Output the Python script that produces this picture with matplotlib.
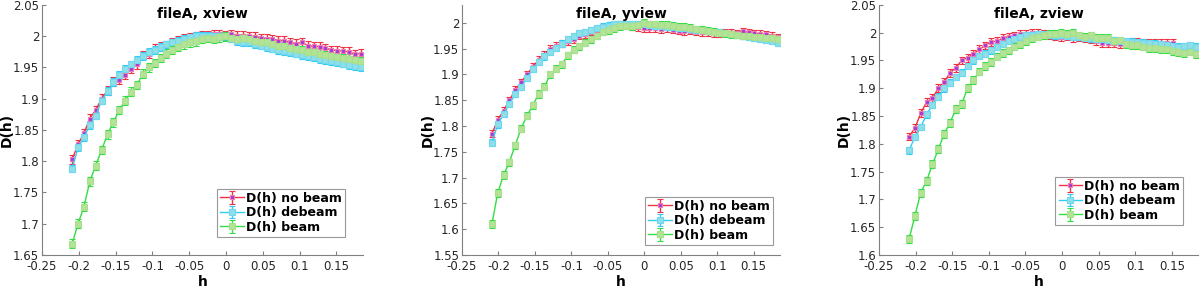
import numpy as np
import matplotlib
matplotlib.use("Agg")
import matplotlib.pyplot as plt

nan = np.nan

h = [-0.209, -0.201, -0.193, -0.185, -0.177, -0.169, -0.161, -0.153, -0.145, -0.137,
     -0.129, -0.121, -0.113, -0.105, -0.097, -0.089, -0.081, -0.073, -0.065, -0.057,
     -0.049, -0.041, -0.033, -0.025, -0.017, -0.009, -0.001, 0.007, 0.015, 0.023,
     0.031, 0.039, 0.047, 0.055, 0.063, 0.071, 0.079, 0.087, 0.095, 0.103,
     0.111, 0.119, 0.127, 0.135, 0.143, 0.151, 0.159, 0.167, 0.175, 0.183]

xview_nobeam = [1.803, 1.827, 1.845, 1.868, 1.882, 1.900, 1.913, 1.927, 1.930, 1.938,
                1.948, 1.955, 1.970, 1.972, 1.980, 1.983, 1.986, 1.990, 1.993, 1.996,
                1.998, 2.000, 2.001, 2.002, 2.003, 2.003, 2.002, 2.003, 2.001, 2.001,
                2.000, 1.999, 1.997, 1.996, 1.995, 1.993, 1.993, 1.990, 1.988, 1.990,
                1.985, 1.984, 1.983, 1.981, 1.978, 1.977, 1.976, 1.975, 1.971, 1.972]
xview_debeam = [1.788, 1.822, 1.838, 1.858, 1.873, 1.897, 1.912, 1.927, 1.938, 1.948,
                1.955, 1.962, 1.968, 1.975, 1.978, 1.983, 1.987, 1.990, 1.993, 1.996,
                1.998, 2.000, 2.000, 2.001, 2.001, 2.001, 2.000, 1.996, 1.992, 1.990,
                1.990, 1.987, 1.985, 1.982, 1.980, 1.978, 1.976, 1.974, 1.972, 1.970,
                1.968, 1.966, 1.963, 1.962, 1.960, 1.958, 1.956, 1.954, 1.952, 1.950]
xview_beam = [1.668, 1.700, 1.727, 1.768, 1.793, 1.818, 1.843, 1.862, 1.882, 1.897,
              1.911, 1.922, 1.940, 1.950, 1.957, 1.965, 1.972, 1.978, 1.983, 1.987,
              1.990, 1.992, 1.996, 1.997, 1.996, 1.998, 2.000, 1.997, 1.996, 1.997,
              1.995, 1.993, 1.991, 1.990, 1.988, 1.985, 1.984, 1.981, 1.979, 1.978,
              1.975, 1.974, 1.972, 1.970, 1.968, 1.966, 1.965, 1.964, 1.962, 1.960]

yview_nobeam = [1.785, 1.812, 1.830, 1.850, 1.870, 1.885, 1.900, 1.915, 1.928, 1.938,
                1.950, 1.956, 1.960, 1.965, 1.968, 1.975, 1.978, 1.983, 1.987, 1.990,
                1.993, 1.995, 1.996, 1.995, 1.993, 1.992, 1.990, 1.990, 1.990, 1.988,
                1.990, 1.987, 1.985, 1.984, 1.985, 1.983, 1.982, 1.982, 1.980, 1.980,
                1.982, 1.981, 1.980, 1.984, 1.982, 1.980, 1.979, 1.978, 1.975, 1.972]
yview_debeam = [1.768, 1.803, 1.823, 1.843, 1.862, 1.875, 1.893, 1.910, 1.925, 1.935,
                1.943, 1.952, 1.960, 1.968, 1.975, 1.980, 1.983, 1.987, 1.990, 1.993,
                1.995, 1.997, 1.998, 1.998, 1.998, 1.998, 1.998, 1.996, 1.995, 1.994,
                1.993, 1.992, 1.991, 1.990, 1.989, 1.987, 1.986, 1.985, 1.983, 1.982,
                1.980, 1.979, 1.977, 1.975, 1.973, 1.971, 1.969, 1.967, 1.965, 1.962]
yview_beam = [1.610, 1.670, 1.705, 1.730, 1.763, 1.795, 1.820, 1.840, 1.862, 1.876,
              1.900, 1.911, 1.920, 1.937, 1.948, 1.955, 1.962, 1.968, 1.975, 1.983,
              1.986, 1.990, 1.994, 1.995, 1.994, 1.996, 2.000, 1.997, 1.997, 1.996,
              1.996, 1.994, 1.993, 1.992, 1.990, 1.988, 1.987, 1.985, 1.983, 1.981,
              1.980, 1.978, 1.977, 1.975, 1.974, 1.973, 1.972, 1.971, 1.970, 1.969]

zview_nobeam = [1.813, 1.828, 1.855, 1.875, 1.882, 1.900, 1.911, 1.928, 1.937, 1.950,
                1.955, 1.962, 1.970, 1.977, 1.983, 1.985, 1.990, 1.993, 1.995, 1.997,
                1.998, 1.999, 1.999, 1.998, 1.996, 1.994, 1.992, 1.993, 1.990, 1.992,
                1.990, 1.988, 1.985, 1.982, 1.981, 1.981, 1.980, 1.982, 1.983, 1.983,
                1.982, 1.982, 1.981, 1.982, 1.982, 1.982, nan, nan, nan, nan]
zview_debeam = [1.788, 1.812, 1.830, 1.853, 1.870, 1.885, 1.900, 1.910, 1.920, 1.928,
                1.940, 1.950, 1.958, 1.962, 1.968, 1.975, 1.980, 1.985, 1.988, 1.992,
                1.995, 1.996, 1.997, 1.997, 1.996, 1.995, 1.995, 1.994, 1.993, 1.992,
                1.991, 1.990, 1.989, 1.988, 1.987, 1.986, 1.985, 1.985, 1.984, 1.983,
                1.982, 1.981, 1.980, 1.979, 1.978, 1.976, 1.975, 1.976, 1.977, 1.975]
zview_beam = [1.628, 1.670, 1.712, 1.733, 1.763, 1.790, 1.818, 1.838, 1.862, 1.872,
              1.900, 1.915, 1.930, 1.940, 1.947, 1.957, 1.963, 1.968, 1.975, 1.980,
              1.985, 1.990, 1.993, 1.995, 1.997, 1.998, 2.000, 1.998, 2.000, 1.995,
              1.993, 1.995, 1.990, 1.990, 1.990, 1.985, 1.986, 1.980, 1.978, 1.977,
              1.975, 1.973, 1.972, 1.970, 1.970, 1.967, 1.965, 1.963, 1.966, 1.962]

# approximate error-bar half widths per series
err_nobeam = 0.007
err_debeam = 0.006
err_beam = 0.007

titles = ["fileA, xview", "fileA, yview", "fileA, zview"]
ylims = [(1.65, 2.05), (1.55, 2.035), (1.60, 2.05)]
yticks = [np.arange(1.65, 2.051, 0.05), np.arange(1.55, 2.001, 0.05),
          np.arange(1.60, 2.051, 0.05)]
xticks = [-0.25, -0.2, -0.15, -0.1, -0.05, 0, 0.05, 0.1, 0.15]
panels = [(xview_nobeam, xview_debeam, xview_beam),
          (yview_nobeam, yview_debeam, yview_beam),
          (zview_nobeam, zview_debeam, zview_beam)]

rects = [(0.035, 0.118, 0.2675, 0.865),
         (0.385, 0.118, 0.265, 0.865),
         (0.7325, 0.118, 0.266, 0.865)]
legend_anchor = [(0.944, 0.072), (0.978, 0.04), (0.953, 0.12)]
ylabel_x = [-0.088, -0.085, -0.088]

GRAY = "#808080"
TXT = "#262626"

styles = [
    dict(label="D(h) no beam", color="#ee3344", mfc="#a43ad8", mec="#f07ab0",
         ms=3.0, err=err_nobeam),
    dict(label="D(h) debeam", color="#33ccf4", mfc="#8edfe6", mec="#6fd8f0",
         ms=4.8, err=err_debeam),
    dict(label="D(h) beam", color="#33dd44", mfc="#b3e395", mec="#a6e08e",
         ms=4.3, err=err_beam),
]

fig = plt.figure(figsize=(12, 2.89), dpi=100)
fig.patch.set_facecolor("white")

for i, rect in enumerate(rects):
    ax = fig.add_axes(rect)
    for vals, st in zip(panels[i], styles):
        ax.errorbar(h, vals, yerr=st["err"], fmt="-s", color=st["color"],
                    lw=1.0, elinewidth=1.0, capsize=2, capthick=1.0,
                    ms=st["ms"], mfc=st["mfc"], mec=st["mec"], mew=0.8,
                    label=st["label"])
    ax.set_xlim(-0.25, 0.186)
    ax.set_ylim(*ylims[i])
    ax.set_xticks(xticks)
    ax.set_xticklabels(["-0.25", "-0.2", "-0.15", "-0.1", "-0.05", "0",
                        "0.05", "0.1", "0.15"])
    ax.set_yticks(yticks[i])
    ax.set_yticklabels([f"{v:.2f}".rstrip("0").rstrip(".") for v in yticks[i]])
    for sp in ("top", "right"):
        ax.spines[sp].set_visible(False)
    for sp in ("left", "bottom"):
        ax.spines[sp].set_color(GRAY)
        ax.spines[sp].set_linewidth(0.8)
    ax.tick_params(direction="in", length=3, width=0.8, color=GRAY,
                   labelsize=8.5, labelcolor=TXT, pad=2)
    ax.tick_params(axis="x", pad=4)
    ax.text(0.5, 0.99, titles[i], transform=ax.transAxes, ha="center",
            va="top", fontsize=10, fontweight="bold", color="black")
    ax.set_xlabel("h", fontsize=10, fontweight="bold", labelpad=1)
    ax.set_ylabel("D(h)", fontsize=10, fontweight="bold")
    ax.yaxis.set_label_coords(ylabel_x[i], 0.5)
    leg = ax.legend(loc="lower right", bbox_to_anchor=legend_anchor[i],
                    prop={"weight": "bold", "size": 9},
                    frameon=True, fancybox=False, borderpad=0.25,
                    handlelength=1.9, handletextpad=0.15, labelspacing=0.12,
                    borderaxespad=0)
    leg.get_frame().set_edgecolor(GRAY)
    leg.get_frame().set_linewidth(0.8)

fig.savefig("out.png", dpi=100, facecolor="white")
